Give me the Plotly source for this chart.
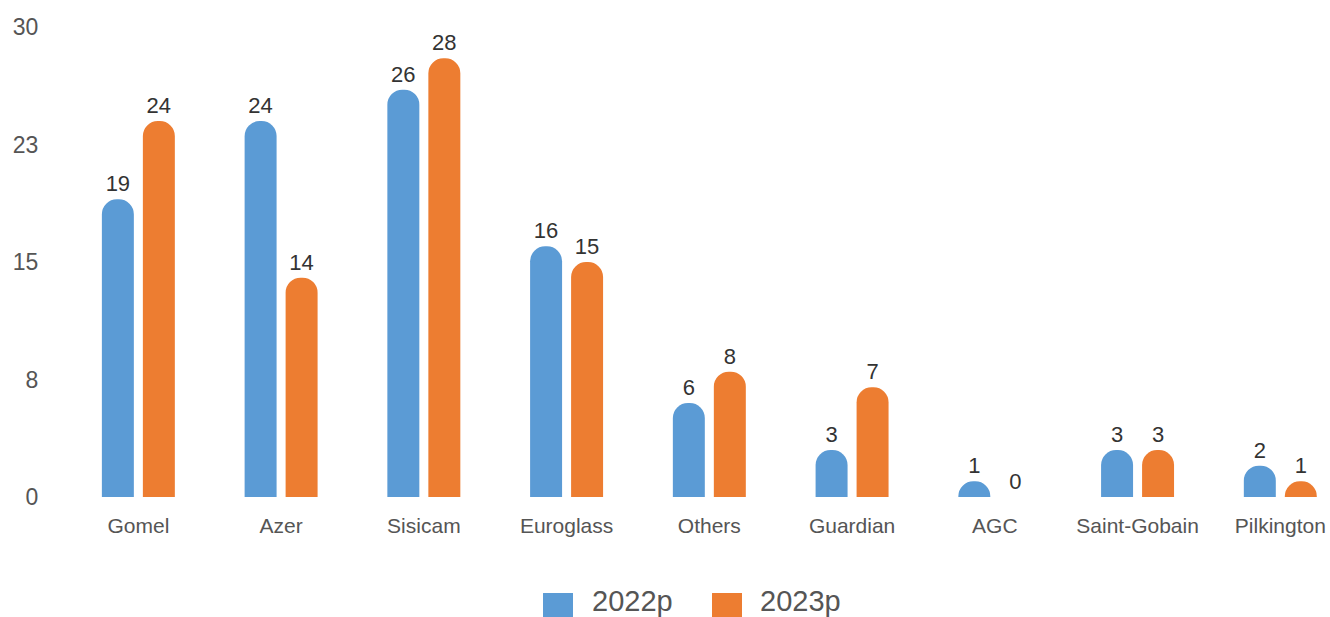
import plotly.graph_objects as go

categories = ["Gomel", "Azer", "Sisicam", "Euroglass", "Others", "Guardian", "AGC", "Saint-Gobain", "Pilkington"]
values_2022 = [19, 24, 26, 16, 6, 3, 1, 3, 2]
values_2023 = [24, 14, 28, 15, 8, 7, 0, 3, 1]
series_names = ["2022p", "2023p"]
y_tick_vals = [0, 7.5, 15, 22.5, 30]
y_tick_text = ["0", "8", "15", "23", "30"]

colors = ["#5B9BD5", "#ED7D31"]
font_family = "Liberation Sans, Arial, sans-serif"
bar_w = 0.224
offsets = [-0.2557, 0.0315]

fig = go.Figure()
for vals, name, color, off in zip([values_2022, values_2023], series_names, colors, offsets):
    fig.add_trace(go.Bar(
        x=categories, y=vals, width=bar_w, offset=off, name=name,
        marker=dict(color=color, cornerradius="50%", line=dict(width=0)),
        text=[str(v) for v in vals], textposition="outside", cliponaxis=False,
        textfont=dict(size=22, color="#333333", family=font_family),
        hovertemplate="%{x}: %{y}<extra>" + name + "</extra>",
        showlegend=False,
    ))

# legend drawn as paper-anchored swatches + labels (large square swatches)
legend_items = [
    (series_names[0], colors[0], 0.3769, 0.4141),
    (series_names[1], colors[1], 0.5107, 0.5471),
]
for name, color, sx, tx in legend_items:
    fig.add_shape(type="rect", xref="paper", yref="paper",
                  x0=sx, x1=sx + 0.02375, y0=-0.2043, y1=-0.2617,
                  fillcolor=color, line=dict(width=0))
    fig.add_annotation(xref="paper", yref="paper", x=tx, y=-0.2213,
                       xanchor="left", yanchor="middle", showarrow=False,
                       text=name, font=dict(size=29, color="#555555", family=font_family))

fig.update_layout(
    width=1330, height=617,
    barmode="overlay",
    plot_bgcolor="white", paper_bgcolor="white",
    margin=dict(l=67, r=0, t=27, b=120, autoexpand=False),
    font=dict(family=font_family, color="#555555"),
    showlegend=False,
    xaxis=dict(
        range=[-0.5, 8.348], showgrid=False, zeroline=False, showline=False,
        ticks="outside", ticklen=10, tickcolor="rgba(0,0,0,0)",
        tickfont=dict(size=21, color="#555555"), automargin=False,
    ),
    yaxis=dict(
        range=[0, 30], tickvals=y_tick_vals, ticktext=y_tick_text,
        showgrid=False, zeroline=False, showline=False,
        ticks="outside", ticklen=23, tickcolor="rgba(0,0,0,0)",
        tickfont=dict(size=23, color="#555555"), automargin=False,
    ),
)

fig.write_html(
    "out.html",
    config={"displayModeBar": False},
    post_script="document.body.style.margin='0';document.body.style.overflow='hidden';",
)
